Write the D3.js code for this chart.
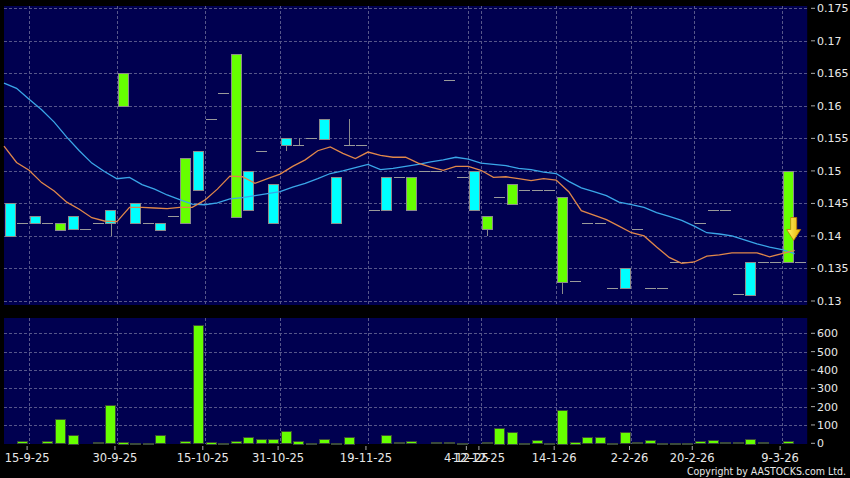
<!DOCTYPE html>
<html><head><meta charset="utf-8">
<script src="https://cdn.jsdelivr.net/npm/d3@7"></script>
<style>html,body{margin:0;padding:0;background:#000;} svg{display:block;}</style>
</head><body><svg id="c" width="850" height="478"></svg>
<script>
// ---- data (one entry per trading slot) ----
const openP  = [0.140,0.142,0.142,0.142,0.142,0.141,0.141,0.142,0.142,0.165,0.142,0.142,0.141,0.143,0.152,0.147,0.158,0.162,0.168,0.144,0.153,0.142,0.154,0.154,0.155,0.155,0.142,0.154,0.154,0.144,0.144,0.149,0.149,0.150,0.150,0.164,0.149,0.144,0.143,0.146,0.148,0.147,0.147,0.147,0.146,0.133,0.142,0.142,0.132,0.132,0.141,0.132,0.132,0.136,0.136,0.142,0.144,0.144,0.131,0.131,0.136,0.136,0.150,0.136];
const highP  = [0.145,0.142,0.143,0.142,0.142,0.143,0.141,0.142,0.144,0.165,0.145,0.142,0.142,0.143,0.152,0.153,0.158,0.162,0.168,0.150,0.153,0.148,0.155,0.155,0.155,0.158,0.149,0.158,0.154,0.144,0.149,0.149,0.149,0.150,0.150,0.164,0.149,0.150,0.143,0.146,0.148,0.147,0.147,0.147,0.146,0.133,0.142,0.142,0.132,0.135,0.141,0.132,0.132,0.136,0.136,0.142,0.144,0.144,0.131,0.136,0.136,0.136,0.150,0.136];
const lowP   = [0.140,0.142,0.142,0.142,0.141,0.141,0.141,0.142,0.140,0.160,0.142,0.142,0.141,0.143,0.142,0.147,0.158,0.162,0.143,0.144,0.153,0.142,0.153,0.154,0.155,0.155,0.142,0.154,0.154,0.144,0.144,0.149,0.144,0.150,0.150,0.164,0.149,0.144,0.140,0.146,0.145,0.147,0.147,0.147,0.131,0.133,0.142,0.142,0.132,0.132,0.141,0.132,0.132,0.136,0.136,0.142,0.144,0.144,0.131,0.131,0.136,0.136,0.136,0.136];
const closeP = [0.145,0.142,0.143,0.142,0.141,0.143,0.141,0.142,0.144,0.160,0.145,0.142,0.142,0.143,0.142,0.153,0.158,0.162,0.143,0.150,0.153,0.148,0.155,0.154,0.155,0.158,0.149,0.154,0.154,0.144,0.149,0.149,0.144,0.150,0.150,0.164,0.149,0.150,0.141,0.146,0.145,0.147,0.147,0.147,0.133,0.133,0.142,0.142,0.132,0.135,0.141,0.132,0.132,0.136,0.136,0.142,0.144,0.144,0.131,0.136,0.136,0.136,0.136,0.136];
const volume = [1,12,2,10,130,48,2,5,208,9,3,3,43,2,13,646,9,4,10,34,21,21,68,15,4,21,4,37,1,1,43,7,10,2,6,6,3,1,6,86,63,4,19,4,184,9,35,35,4,61,6,17,4,3,4,11,18,5,5,26,5,1,10,1];
const maShort = [0.1538,0.1513,0.1501,0.1482,0.1469,0.1452,0.1441,0.1428,0.1423,0.1422,0.1444,0.1444,0.1443,0.1442,0.1444,0.1444,0.1455,0.1472,0.1492,0.1491,0.1481,0.1488,0.1495,0.1507,0.1517,0.1531,0.1537,0.1527,0.1519,0.1529,0.1524,0.1521,0.1521,0.1512,0.1506,0.1501,0.1507,0.1507,0.1501,0.1490,0.1491,0.1488,0.1485,0.1488,0.1486,0.1468,0.1439,0.1432,0.1425,0.1415,0.1405,0.1400,0.1383,0.1367,0.1358,0.1360,0.1369,0.1371,0.1374,0.1374,0.1374,0.1368,0.1373,0.1378];
const maLong = [0.1635,0.1627,0.1610,0.1594,0.1575,0.1552,0.1531,0.1512,0.1499,0.1488,0.1490,0.1479,0.1472,0.1463,0.1456,0.1449,0.1448,0.1451,0.1457,0.1459,0.1462,0.1465,0.1468,0.1475,0.1481,0.1488,0.1496,0.1500,0.1505,0.1510,0.1502,0.1504,0.1507,0.1510,0.1514,0.1517,0.1521,0.1518,0.1512,0.1510,0.1508,0.1504,0.1502,0.1498,0.1496,0.1484,0.1474,0.1468,0.1462,0.1452,0.1448,0.1444,0.1436,0.1430,0.1424,0.1415,0.1405,0.1403,0.1400,0.1394,0.1388,0.1383,0.1379,0.1373];
const dateLabels = ["15-9-25","30-9-25","15-10-25","31-10-25","19-11-25","4-12-25","12-12-25","14-1-26","2-2-26","20-2-26","9-3-26"];
const dateSlots  = [2,9,16,22,29,37,38,44,50,55,62];
const priceTicks = [0.13,0.135,0.14,0.145,0.15,0.155,0.16,0.165,0.17,0.175];
const volTicks = [0,100,200,300,400,500,600];
const signalSlot = 62, signalLevel = 0.1393;

// ---- layout ----
const svg = d3.select("#c");
const L = 4, R = 807.2;
const P = {top: 6, bottom: 305};
const V = {top: 318, bottom: 444};
const n = openP.length;
const x = d3.scaleBand().domain(d3.range(n)).range([L, R]).paddingInner(0.12).paddingOuter(0.06);
const step = x.step(), bw = x.bandwidth();
const edge = i => x(i) - step * 0.06;
const y = d3.scaleLinear().domain([0.13, 0.175]).range([301, 8.3]);
const yv = d3.scaleLinear().domain([0, 600]).range([443.3, 333.3]);

const navy = "#000050", gridC = "#56568a";
svg.append("rect").attr("width", 850).attr("height", 478).attr("fill", "#000");
svg.append("rect").attr("x", L).attr("y", P.top).attr("width", R - L).attr("height", P.bottom - P.top).attr("fill", navy);
svg.append("rect").attr("x", L).attr("y", V.top).attr("width", R - L).attr("height", V.bottom - V.top).attr("fill", navy);

// grids
const g = svg.append("g").attr("stroke", gridC).attr("stroke-dasharray", "3,2").attr("stroke-width", 1).attr("shape-rendering", "crispEdges");
priceTicks.forEach(t => g.append("line").attr("x1", L).attr("x2", R).attr("y1", Math.round(y(t)) + 0.5).attr("y2", Math.round(y(t)) + 0.5));
volTicks.slice(1).forEach(t => g.append("line").attr("x1", L).attr("x2", R).attr("y1", Math.round(yv(t)) + 0.5).attr("y2", Math.round(yv(t)) + 0.5));
dateSlots.forEach(s => {
  const xx = Math.round(edge(s)) + 0.5;
  g.append("line").attr("x1", xx).attr("x2", xx).attr("y1", P.top).attr("y2", P.bottom);
  g.append("line").attr("x1", xx).attr("x2", xx).attr("y1", V.top).attr("y2", V.bottom);
});

// candles
const greenC = "#66ff00", cyanC = "#00ffff", edgeC = "#8c8c8c";
const cg = svg.append("g").attr("shape-rendering", "crispEdges");
d3.range(n).forEach(i => {
  const o = openP[i], c = closeP[i], h = highP[i], l = lowP[i];
  const cx = Math.round(x(i) + bw / 2) + 0.5;
  if (h > Math.max(o, c) || l < Math.min(o, c)) {
    cg.append("line").attr("x1", cx).attr("x2", cx).attr("y1", y(h)).attr("y2", y(l)).attr("stroke", edgeC);
  }
  if (o === c) {
    cg.append("line").attr("x1", x(i)).attr("x2", x(i) + bw).attr("y1", Math.round(y(c)) + 0.5).attr("y2", Math.round(y(c)) + 0.5).attr("stroke", "#9a9a9a");
  } else {
    const top = y(Math.max(o, c)), bot = y(Math.min(o, c));
    cg.append("rect").attr("x", Math.round(x(i)) + 0.5).attr("y", Math.round(top) + 0.5).attr("width", Math.round(bw) - 1).attr("height", Math.round(bot - top))
      .attr("fill", c < o ? greenC : cyanC).attr("stroke", edgeC).attr("stroke-width", 1);
  }
});

// moving averages (plotted at slot edges)
const lineGen = d3.line().x((d, i) => edge(i)).y(d => y(d));
svg.append("path").datum(maLong).attr("d", lineGen).attr("fill", "none").attr("stroke", "#3aa6e8").attr("stroke-width", 1.3);
svg.append("path").datum(maShort).attr("d", lineGen).attr("fill", "none").attr("stroke", "#e0874a").attr("stroke-width", 1.3);

// signal arrow
const ax = x(signalSlot) + bw / 2 + 5.3, ay = y(signalLevel);
const grad = svg.append("defs").append("linearGradient").attr("id", "ag").attr("x1", 0).attr("x2", 1);
grad.append("stop").attr("offset", "0").attr("stop-color", "#fff36a");
grad.append("stop").attr("offset", "1").attr("stop-color", "#e8b400");
svg.append("path")
  .attr("d", `M${ax-3},${ay-23} L${ax+3},${ay-23} L${ax+3},${ay-11} L${ax+7},${ay-11} L${ax},${ay} L${ax-7},${ay-11} L${ax-3},${ay-11} Z`)
  .attr("fill", "url(#ag)").attr("stroke", "#c07a00").attr("stroke-width", 0.8);

// volume bars
const vg = svg.append("g").attr("shape-rendering", "crispEdges");
volume.forEach((v, i) => {
  const top = yv(v);
  vg.append("rect").attr("x", Math.round(x(i)) + 0.5).attr("y", Math.round(top) + 0.5)
    .attr("width", Math.round(bw) - 1).attr("height", Math.max(0, Math.round(yv(0) - top)))
    .attr("fill", greenC).attr("stroke", "#3a4a3a").attr("stroke-width", 1);
});

// right axes
const font = "DejaVu Sans, Verdana, sans-serif";
const ax1 = svg.append("g");
priceTicks.forEach(t => {
  ax1.append("line").attr("x1", 811).attr("x2", 815).attr("y1", y(t)).attr("y2", y(t)).attr("stroke", "#aaa");
  ax1.append("text").attr("x", 817).attr("y", y(t)).attr("dy", "0.36em").attr("fill", "#e8e8e8")
    .attr("font-family", font).attr("font-size", 11).text(String(t));
});
volTicks.forEach(t => {
  ax1.append("line").attr("x1", 811).attr("x2", 815).attr("y1", yv(t)).attr("y2", yv(t)).attr("stroke", "#aaa");
  ax1.append("text").attr("x", 817).attr("y", yv(t)).attr("dy", "0.36em").attr("fill", "#e8e8e8")
    .attr("font-family", font).attr("font-size", 11).text(String(t));
});

// date axis
dateLabels.forEach((lab, k) => {
  const xx = edge(dateSlots[k]) - 2;
  svg.append("line").attr("x1", xx).attr("x2", xx).attr("y1", 446).attr("y2", 450).attr("stroke", "#aaa");
  svg.append("text").attr("x", xx).attr("y", 461.5).attr("text-anchor", "middle").attr("fill", "#e8e8e8")
    .attr("font-family", font).attr("font-size", 11.5).text(lab);
});

svg.append("text").attr("x", 846).attr("y", 475).attr("text-anchor", "end").attr("fill", "#e8e8e8")
  .attr("font-family", font).attr("font-size", 11).attr("textLength", 159).attr("lengthAdjust", "spacingAndGlyphs")
  .text("Copyright by AASTOCKS.com Ltd.");
</script>
</body></html>
